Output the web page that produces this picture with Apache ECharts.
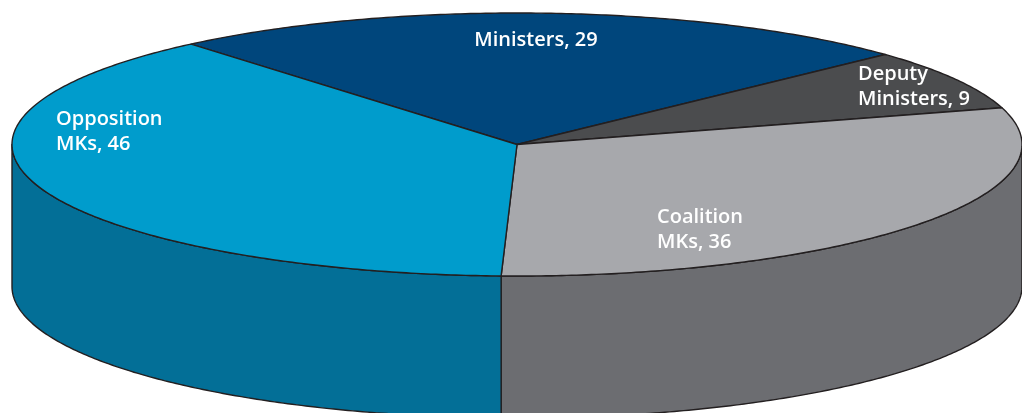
<!DOCTYPE html>
<html>
<head>
<meta charset="utf-8">
<script src="https://cdn.jsdelivr.net/npm/echarts@6/dist/echarts.min.js"></script>
<style>
  html, body { margin: 0; padding: 0; background: #ffffff; }
  #chart { width: 1022px; height: 413px; }
</style>
</head>
<body>
<div id="chart"></div>
<script>
// Composition of the cabinet and Knesset members
const categories = ['Ministers', 'Deputy\nMinisters', 'Coalition\nMKs', 'Opposition\nMKs'];
const seats = [29, 9, 36, 46];

// Styling and layout
const topColors  = ['#00467c', '#4b4c4e', '#a7a8ac', '#009ccc'];
const sideColors = ['#00365f', '#3a3b3d', '#6c6d71', '#036f97'];
const labelAnchors = [[536, 28, 'center'], [858, 62, 'left'], [657, 205, 'left'], [56, 107, 'left']];
const START_DEG = -130.2;   // screen angle where the first slice begins (clockwise)
const DEPTH = 1.08;         // wall height, in units of the vertical radius
const EDGE = '#231f20';

const total = seats.reduce((a, b) => a + b, 0);
const bounds = [START_DEG * Math.PI / 180];
seats.forEach(v => bounds.push(bounds[bounds.length - 1] + v / total * 2 * Math.PI));

function arc(api, a0, a1, drop) {
  const pts = [];
  const n = Math.max(2, Math.ceil(Math.abs(a1 - a0) / 0.01));
  for (let k = 0; k <= n; k++) {
    const t = a0 + (a1 - a0) * k / n;
    pts.push(api.coord([Math.cos(t), -Math.sin(t) - drop]));
  }
  return pts;
}

function renderItem(params, api) {
  const i = params.dataIndex;
  const a0 = bounds[i], a1 = bounds[i + 1];
  const children = [];
  // front wall: only the part of the rim facing the viewer (screen angles 0..PI)
  for (let k = -1; k <= 1; k++) {
    const lo = Math.max(a0, 2 * Math.PI * k);
    const hi = Math.min(a1, Math.PI + 2 * Math.PI * k);
    if (hi > lo) {
      const pts = arc(api, lo, hi, 0).concat(arc(api, hi, lo, DEPTH));
      children.push({
        type: 'polygon',
        shape: { points: pts },
        style: { fill: sideColors[i], stroke: EDGE, lineWidth: 1.4, lineJoin: 'round' }
      });
    }
  }
  // top face
  const topPts = [api.coord([0, 0])].concat(arc(api, a0, a1, 0));
  children.push({
    type: 'polygon',
    shape: { points: topPts },
    style: { fill: topColors[i], stroke: EDGE, lineWidth: 1.4, lineJoin: 'round' }
  });
  // label
  const anchor = labelAnchors[i];
  children.push({
    type: 'text',
    z2: 10,
    style: {
      text: categories[i] + ', ' + seats[i],
      x: anchor[0],
      y: anchor[1],
      align: anchor[2],
      verticalAlign: 'top',
      fill: '#ffffff',
      fontFamily: '"Open Sans", "Noto Sans", sans-serif',
      fontSize: 20,
      fontWeight: 600,
      lineHeight: 25
    }
  });
  return { type: 'group', children: children };
}

const chart = echarts.init(document.getElementById('chart'), null, { renderer: 'canvas' });
chart.setOption({
  animation: false,
  backgroundColor: '#ffffff',
  grid: { left: 12, top: 13, width: 1022, height: 263, containLabel: false },
  xAxis: { type: 'value', min: -1, max: 1, show: false },
  yAxis: { type: 'value', min: -1, max: 1, show: false },
  series: [{
    type: 'custom',
    name: 'Seats',
    clip: false,
    renderItem: renderItem,
    data: seats.map((v, i) => ({ name: categories[i].replace('\n', ' '), value: [0, 0, v] }))
  }]
});
</script>
</body>
</html>
